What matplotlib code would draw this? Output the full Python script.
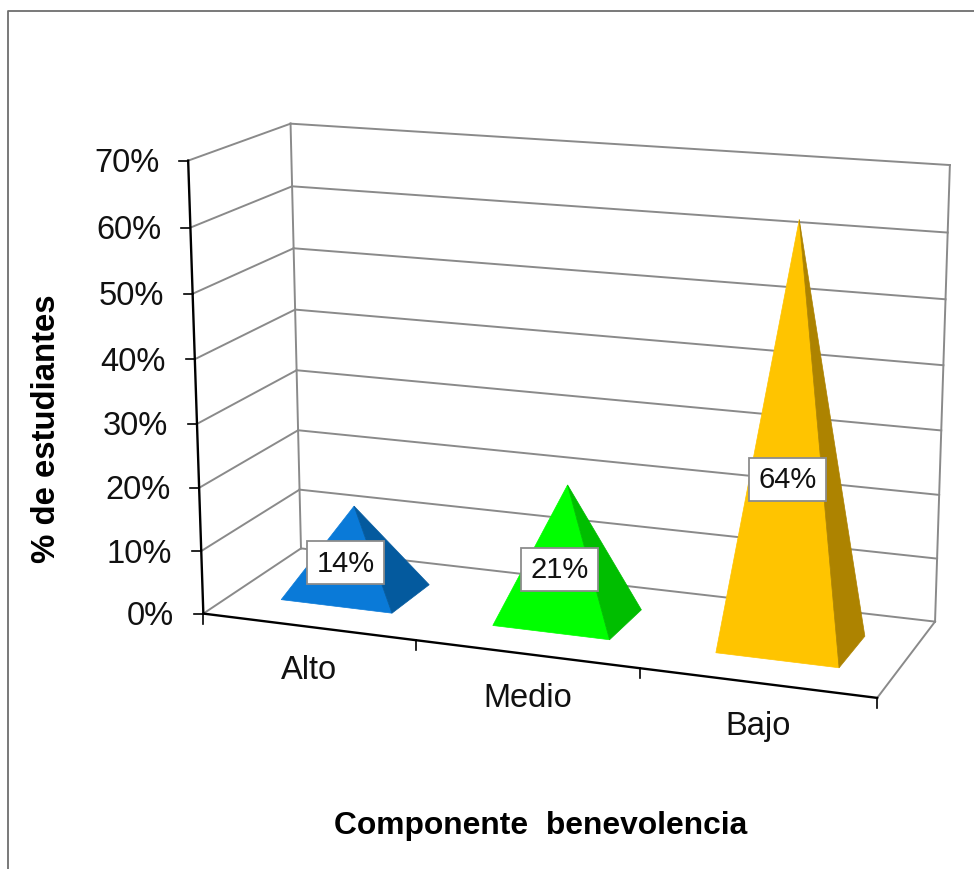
## 3D pyramid chart, percent of students per level
import numpy as np
import matplotlib.pyplot as plt
from matplotlib.patches import Polygon, Rectangle

categories = ["Alto", "Medio", "Bajo"]
values = [14, 21, 64]
value_labels = ["14%", "21%", "64%"]
y_ticks = [0, 10, 20, 30, 40, 50, 60, 70]
y_tick_labels = ["0%", "10%", "20%", "30%", "40%", "50%", "60%", "70%"]
x_title = "Componente  benevolencia"
y_title = "% de estudiantes"

face_colors = ["#0A7AD8", "#00FF00", "#FFC400"]
side_colors = ["#045A9E", "#00BE00", "#AD8300"]

W, H = 974, 869

# camera: (category pos, depth 0-1, percent) -> pixel, fitted on the box corners
world = np.array([[0,0,0],[0,0,70],[0,1,0],[0,1,70],[3,1,0],[3,1,70],[3,0,0],
                  [1,0,0],[2,0,0],[0,0,30],[0,0,60],[3,1,50]], float)
pixel = np.array([[204,614],[188,161],[300.5,548],[291,124],[935,622],[950.5,165],[877,697],
                  [416.7,641],[640,669],[196.5,422],[190,228],[945,299]], float)

rows = []
for (a, b, c), (u, v) in zip(world, pixel):
    rows.append([a, b, c/70, 1, 0, 0, 0, 0, -u*a, -u*b, -u*c/70, -u])
    rows.append([0, 0, 0, 0, a, b, c/70, 1, -v*a, -v*b, -v*c/70, -v])
cam = np.linalg.svd(np.array(rows))[2][-1].reshape(3, 4)

def pr(x, d, v):
    p = cam @ np.array([x, d, v/70, 1.0])
    return p[0]/p[2], p[1]/p[2]

def line(a, b, color="#8A8A8A", lw=1.4, z=1):
    ax.plot([a[0], b[0]], [a[1], b[1]], color=color, lw=lw, zorder=z, solid_capstyle="projecting")

fig = plt.figure(figsize=(W/100, H/100), dpi=100)
ax = fig.add_axes([0, 0, 1, 1])
ax.set_xlim(0, W)
ax.set_ylim(H, 0)
ax.axis("off")
plt.rcParams['font.family'] = ['Liberation Sans', 'DejaVu Sans']

# outer frame of the chart
ax.plot([8, 8, W], [H, 11, 11], color="#6E6E6E", lw=1.3)

# walls and gridlines
n = len(categories)
for t in y_ticks:
    line(pr(0, 0, t), pr(0, 1, t))
    line(pr(0, 1, t), pr(n, 1, t))
line(pr(0, 1, 0), pr(0, 1, 70))
line(pr(n, 1, 0), pr(n, 1, 70))
line(pr(n, 0, 0), pr(n, 1, 0))

# axes
line(pr(0, 0, 0), pr(0, 0, 70), color="black", lw=1.7, z=2)
line(pr(0, 0, 0), pr(n, 0, 0), color="black", lw=1.7, z=2)
for t, lab in zip(y_ticks, y_tick_labels):
    px, py = pr(0, 0, t)
    line((px-9, py), (px, py), color="black", lw=1.2, z=2)
    ax.text(px-29, py+3, lab, ha="right", va="center", fontsize=23.5, color="#111111")
for i in range(n+1):
    px, py = pr(i, 0, 0)
    line((px, py), (px, py+10), color="black", lw=1.2, z=2)

# pyramids
hw, d0, d1 = 0.265, 0.29, 0.71
for i, (cat, val, lab) in enumerate(zip(categories, values, value_labels)):
    c = i + 0.5
    fl = pr(c-hw, d0, 0)
    fr = pr(c+hw, d0, 0)
    br = pr(c+hw, d1, 0)
    top = pr(c, 0.5, val)
    ax.add_patch(Polygon([fl, fr, top], closed=True, fc=face_colors[i], ec=face_colors[i], lw=0.5, zorder=3))
    ax.add_patch(Polygon([fr, br, top], closed=True, fc=side_colors[i], ec=side_colors[i], lw=0.5, zorder=4))

    # data label
    px, py = pr(c, 0.4, val*0.41)
    ax.add_patch(Rectangle((px-38.5, py-22.5), 77, 43, fc="white", ec="#8C8C8C", lw=1.3, zorder=5))
    ax.text(px, py, lab, ha="center", va="center", fontsize=21, color="#111111", zorder=6)

    # category label
    px, py = pr(c, 0, 0)
    ax.text(px+1, py+44, cat, ha="center", va="center", fontsize=23.5, color="#111111")

ax.text(541, 826, x_title, ha="center", va="center", fontsize=22.9, fontweight="bold", color="black")
ax.text(47, 429, y_title, ha="center", va="center", rotation=90, fontsize=23.7, fontweight="bold", color="black")

fig.savefig("out.png", dpi=100)
